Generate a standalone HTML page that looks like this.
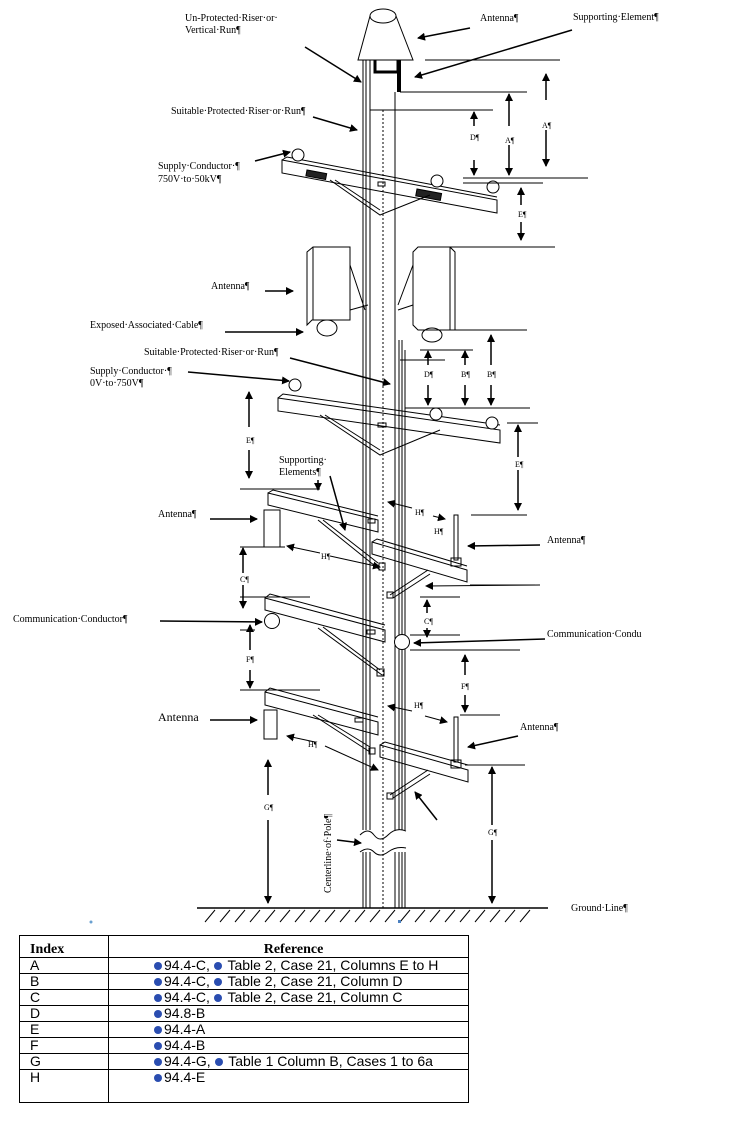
<!DOCTYPE html>
<html><head><meta charset="utf-8"><style>
html,body{margin:0;padding:0;background:#fff;width:752px;height:1134px;overflow:hidden}
svg{position:absolute;left:0;top:0}
svg text{font-family:"Liberation Serif",serif;font-size:10px;fill:#000}
table{position:absolute;left:19px;top:935px;width:450px;border-collapse:collapse;font-family:"Liberation Sans",sans-serif;font-size:14px;line-height:15px}
td,th{border:1.5px solid #000;padding:0 0 0 10px;height:15px;text-align:left}
th{font-family:"Liberation Serif",serif;font-size:14px;height:21px;vertical-align:bottom}
.b{display:inline-block;width:8px;height:8px;border-radius:50%;background:#2a4db0;margin-right:2px;vertical-align:0}
td.r{padding-left:45px}
</style></head><body>
<svg width="752" height="1134" viewBox="0 0 752 1134">
<defs><marker id="a" markerWidth="8" markerHeight="8" refX="7" refY="4" orient="auto" markerUnits="userSpaceOnUse"><path d="M0,0L8,4L0,8z" fill="#000"/></marker></defs>
<g stroke="#000" fill="none" stroke-width="1">
<line x1="370" y1="60" x2="370" y2="830"/><line x1="395" y1="92" x2="395" y2="830"/>
<line x1="370" y1="852" x2="370" y2="908"/><line x1="395" y1="852" x2="395" y2="908"/>
<line x1="363" y1="60" x2="363" y2="830"/><line x1="366" y1="60" x2="366" y2="830"/>
<line x1="363" y1="852" x2="363" y2="908"/><line x1="366" y1="852" x2="366" y2="908"/>
<line x1="399" y1="340" x2="399" y2="830"/><line x1="402" y1="340" x2="402" y2="830"/><line x1="405" y1="350" x2="405" y2="830"/>
<line x1="399" y1="852" x2="399" y2="908"/><line x1="402" y1="852" x2="402" y2="908"/><line x1="405" y1="852" x2="405" y2="908"/>
<line x1="383" y1="110" x2="383" y2="908" stroke-dasharray="2,2"/>
<path d="M360,835q8,-8 14,0t14,0t18,-4M360,852q8,-6 14,0t14,0t18,-4"/>
<ellipse cx="383" cy="16" rx="13" ry="7"/>
<path d="M370,16L358,60H413L396,16"/>
<path d="M375,60V72H398V60" stroke-width="3"/><line x1="399" y1="60" x2="399" y2="92" stroke-width="4"/>
<path d="M282,160L497,200L497,213L282,173Z M282,160l5,-3l210,40" />
<rect x="307" y="170" width="20" height="6" fill="#222" transform="rotate(10.5 307 170)"/>
<rect x="417" y="189" width="25" height="7" fill="#222" transform="rotate(10.5 417 189)"/>
<path d="M330,180L380,215L430,195M335,180L380,210"/>
<rect x="378" y="182" width="7" height="4"/>
<circle cx="298" cy="155" r="6" fill="#fff"/><circle cx="437" cy="181" r="6" fill="#fff"/><circle cx="493" cy="187" r="6" fill="#fff"/>
<path d="M307,252L313,247H350V320H312L307,325Z M313,247V320"/>
<path d="M350,265L365,310M350,310L368,305"/>
<ellipse cx="327" cy="328" rx="10" ry="8"/>
<path d="M413,252L418,247H450L455,252V330H418L413,325Z M450,247V330"/>
<path d="M413,265L398,305M413,305L398,310"/>
<ellipse cx="432" cy="335" rx="10" ry="7"/>
<path d="M278,398L500,430L500,443L278,411Z M278,398l5,-4l217,31"/>
<path d="M320,415L380,455L440,430M325,415L380,450"/>
<rect x="378" y="423" width="8" height="4"/>
<circle cx="295" cy="385" r="6" fill="#fff"/><circle cx="436" cy="414" r="6" fill="#fff"/><circle cx="492" cy="423" r="6" fill="#fff"/>
<path d="M268,493L378,520L378,532L268,505Z M268,493l5,-3l105,26"/>
<path d="M318,520L380,570M323,520L378,563"/><rect x="379" y="563" width="6" height="7"/>
<rect x="264" y="510" width="16" height="37"/>
<rect x="368" y="519" width="7" height="4"/>
<path d="M372,542L467,570L467,582L372,554Z M372,542l5,-3l90,27"/>
<path d="M428,570L390,595M430,574L393,598"/><rect x="387" y="592" width="6" height="6"/>
<rect x="454" y="515" width="4" height="45"/><rect x="451" y="558" width="10" height="8"/>
<path d="M265,598L385,630L385,642L265,610Z M265,598l5,-4l115,31"/>
<path d="M318,628L382,675M323,627L380,670"/><rect x="377" y="669" width="7" height="7"/>
<circle cx="272" cy="621" r="7.5" fill="#fff"/><circle cx="402" cy="642" r="7.5" fill="#fff"/>
<rect x="367" y="630" width="8" height="4"/>
<path d="M265,692L378,722L378,735L265,705Z M265,692l5,-4l108,29"/>
<path d="M313,715L370,752M318,715L370,747"/><rect x="369" y="748" width="6" height="6"/>
<rect x="264" y="710" width="13" height="29"/>
<rect x="355" y="718" width="8" height="4"/>
<path d="M380,745L468,770L468,782L380,757Z M380,745l5,-3l83,23"/>
<path d="M428,770L390,795M430,774L393,798"/><rect x="387" y="793" width="6" height="6"/>
<rect x="454" y="717" width="4" height="45"/><rect x="451" y="760" width="10" height="8"/>
<line x1="197" y1="908" x2="548" y2="908" stroke-width="1.5"/>
<path d="M205,922l10,-12M220,922l10,-12M235,922l10,-12M250,922l10,-12M265,922l10,-12M280,922l10,-12M295,922l10,-12M310,922l10,-12M325,922l10,-12M340,922l10,-12M355,922l10,-12M370,922l10,-12M385,922l10,-12M400,922l10,-12M415,922l10,-12M430,922l10,-12M445,922l10,-12M460,922l10,-12M475,922l10,-12M490,922l10,-12M505,922l10,-12M520,922l10,-12"/>
<path d="M425,60H560M400,92H527M370,110H493M463,178H588M463,183H543M448,247H555M455,330H527M420,350H473M400,360H445M405,408H530M507,423H538M240,489H320M240,547H285M471,515H527M470,585H535M240,597H310M420,597H460M240,630H255M410,635H460M410,650H520M240,690H320M460,715H500M465,765H525"/>
</g>
<g stroke="#000" stroke-width="1.5" fill="none">
<line x1="470" y1="28" x2="418" y2="38" marker-end="url(#a)"/>
<line x1="572" y1="30" x2="415" y2="77" marker-end="url(#a)"/>
<line x1="305" y1="47" x2="361" y2="82" marker-end="url(#a)"/>
<line x1="313" y1="117" x2="357" y2="130" marker-end="url(#a)"/>
<line x1="255" y1="161" x2="290" y2="152" marker-end="url(#a)"/>
<line x1="265" y1="291" x2="293" y2="291" marker-end="url(#a)"/>
<line x1="225" y1="332" x2="303" y2="332" marker-end="url(#a)"/>
<line x1="290" y1="358" x2="390" y2="384" marker-end="url(#a)"/>
<line x1="188" y1="372" x2="289" y2="381" marker-end="url(#a)"/>
<line x1="330" y1="476" x2="345" y2="530" marker-end="url(#a)"/>
<line x1="318" y1="480" x2="318" y2="490" marker-end="url(#a)"/>
<line x1="210" y1="519" x2="257" y2="519" marker-end="url(#a)"/>
<line x1="540" y1="545" x2="468" y2="546" marker-end="url(#a)"/>
<line x1="540" y1="585" x2="426" y2="586" marker-end="url(#a)" stroke-width="1"/>
<line x1="160" y1="621" x2="262" y2="622" marker-end="url(#a)"/>
<line x1="545" y1="639" x2="414" y2="643" marker-end="url(#a)"/>
<line x1="210" y1="720" x2="257" y2="720" marker-end="url(#a)"/>
<line x1="518" y1="736" x2="468" y2="747" marker-end="url(#a)"/>
<line x1="437" y1="820" x2="415" y2="792" marker-end="url(#a)"/>
<line x1="337" y1="840" x2="361" y2="843" marker-end="url(#a)"/>
<line x1="320" y1="553" x2="287" y2="546" marker-end="url(#a)" stroke-width="1"/>
<line x1="330" y1="556" x2="380" y2="567" marker-end="url(#a)" stroke-width="1"/>
<line x1="412" y1="508" x2="388" y2="502" marker-end="url(#a)" stroke-width="1"/>
<line x1="433" y1="516" x2="445" y2="519" marker-end="url(#a)" stroke-width="1"/>
<line x1="315" y1="742" x2="287" y2="736" marker-end="url(#a)" stroke-width="1"/>
<line x1="325" y1="746" x2="378" y2="770" marker-end="url(#a)" stroke-width="1"/>
<line x1="412" y1="711" x2="388" y2="706" marker-end="url(#a)" stroke-width="1"/>
<line x1="425" y1="716" x2="447" y2="722" marker-end="url(#a)" stroke-width="1"/>
<!-- dimension arrows -->
<line x1="474" y1="126" x2="474" y2="112" marker-end="url(#a)"/><line x1="474" y1="160" x2="474" y2="175" marker-end="url(#a)"/>
<line x1="509" y1="126" x2="509" y2="94" marker-end="url(#a)"/><line x1="509" y1="145" x2="509" y2="175" marker-end="url(#a)"/>
<line x1="546" y1="100" x2="546" y2="74" marker-end="url(#a)"/><line x1="546" y1="130" x2="546" y2="166" marker-end="url(#a)"/>
<line x1="521" y1="205" x2="521" y2="188" marker-end="url(#a)"/><line x1="521" y1="222" x2="521" y2="240" marker-end="url(#a)"/>
<line x1="428" y1="365" x2="428" y2="351" marker-end="url(#a)"/><line x1="428" y1="385" x2="428" y2="405" marker-end="url(#a)"/>
<line x1="465" y1="365" x2="465" y2="351" marker-end="url(#a)"/><line x1="465" y1="385" x2="465" y2="405" marker-end="url(#a)"/>
<line x1="491" y1="365" x2="491" y2="335" marker-end="url(#a)"/><line x1="491" y1="385" x2="491" y2="405" marker-end="url(#a)"/>
<line x1="249" y1="427" x2="249" y2="392" marker-end="url(#a)"/><line x1="249" y1="450" x2="249" y2="478" marker-end="url(#a)"/>
<line x1="518" y1="457" x2="518" y2="425" marker-end="url(#a)"/><line x1="518" y1="470" x2="518" y2="510" marker-end="url(#a)"/>
<line x1="243" y1="573" x2="243" y2="548" marker-end="url(#a)"/><line x1="243" y1="585" x2="243" y2="608" marker-end="url(#a)"/>
<line x1="250" y1="650" x2="250" y2="625" marker-end="url(#a)"/><line x1="250" y1="670" x2="250" y2="688" marker-end="url(#a)"/>
<line x1="465" y1="675" x2="465" y2="655" marker-end="url(#a)"/><line x1="465" y1="695" x2="465" y2="712" marker-end="url(#a)"/>
<line x1="268" y1="795" x2="268" y2="760" marker-end="url(#a)"/><line x1="268" y1="820" x2="268" y2="903" marker-end="url(#a)"/>
<line x1="492" y1="825" x2="492" y2="767" marker-end="url(#a)"/><line x1="492" y1="840" x2="492" y2="903" marker-end="url(#a)"/>
<line x1="427" y1="613" x2="427" y2="600" marker-end="url(#a)"/><line x1="427" y1="628" x2="427" y2="637" marker-end="url(#a)"/>
</g>
<text x="185" y="21">Un-Protected·Riser·or·</text>
<text x="185" y="33">Vertical·Run¶</text>
<text x="480" y="21">Antenna¶</text>
<text x="573" y="20">Supporting·Element¶</text>
<text x="171" y="114">Suitable·Protected·Riser·or·Run¶</text>
<text x="158" y="169">Supply·Conductor·¶</text>
<text x="158" y="182">750V·to·50kV¶</text>
<text x="211" y="289">Antenna¶</text>
<text x="90" y="328">Exposed·Associated·Cable¶</text>
<text x="144" y="355">Suitable·Protected·Riser·or·Run¶</text>
<text x="90" y="374">Supply·Conductor·¶</text>
<text x="90" y="386">0V·to·750V¶</text>
<text x="279" y="463">Supporting·</text>
<text x="279" y="475">Elements¶</text>
<text x="158" y="517">Antenna¶</text>
<text x="547" y="543">Antenna¶</text>
<text x="13" y="622">Communication·Conductor¶</text>
<text x="547" y="637">Communication·Condu</text>
<text x="158" y="721" style="font-size:12px">Antenna</text>
<text x="520" y="730">Antenna¶</text>
<text x="571" y="911">Ground·Line¶</text>
<text x="470" y="140" style="font-size:8px">D¶</text><text x="505" y="143" style="font-size:8px">A¶</text><text x="542" y="128" style="font-size:8px">A¶</text>
<text x="518" y="217" style="font-size:8px">E¶</text>
<text x="424" y="377" style="font-size:8px">D¶</text><text x="461" y="377" style="font-size:8px">B¶</text><text x="487" y="377" style="font-size:8px">B¶</text>
<text x="246" y="443" style="font-size:8px">E¶</text><text x="515" y="467" style="font-size:8px">E¶</text>
<text x="415" y="515" style="font-size:8px">H¶</text><text x="434" y="534" style="font-size:8px">H¶</text>
<text x="321" y="559" style="font-size:8px">H¶</text>
<text x="240" y="582" style="font-size:8px">C¶</text><text x="424" y="624" style="font-size:8px">C¶</text>
<text x="246" y="662" style="font-size:8px">F¶</text><text x="461" y="689" style="font-size:8px">F¶</text>
<text x="414" y="708" style="font-size:8px">H¶</text><text x="308" y="747" style="font-size:8px">H¶</text>
<text x="264" y="810" style="font-size:8px">G¶</text><text x="488" y="835" style="font-size:8px">G¶</text>
<text transform="translate(331,893) rotate(-90)">Centerline·of·Pole¶</text>
<circle cx="91" cy="922" r="1.5" fill="#6aa0d0"/><rect x="398" y="920" width="3" height="3" fill="#4a80c0"/>
</svg>
<table>
<tr><th style="width:78px">Index</th><th style="text-align:center">Reference</th></tr>
<tr><td>A</td><td class="r"><span class="b"></span>94.4-C, <span class="b"></span> Table 2, Case 21, Columns E to H</td></tr>
<tr><td>B</td><td class="r"><span class="b"></span>94.4-C, <span class="b"></span> Table 2, Case 21, Column D</td></tr>
<tr><td>C</td><td class="r"><span class="b"></span>94.4-C, <span class="b"></span> Table 2, Case 21, Column C</td></tr>
<tr><td>D</td><td class="r"><span class="b"></span>94.8-B</td></tr>
<tr><td>E</td><td class="r"><span class="b"></span>94.4-A</td></tr>
<tr><td>F</td><td class="r"><span class="b"></span>94.4-B</td></tr>
<tr><td>G</td><td class="r"><span class="b"></span>94.4-G, <span class="b"></span> Table 1 Column B, Cases 1 to 6a</td></tr>
<tr><td style="vertical-align:top;height:32px">H</td><td class="r" style="vertical-align:top"><span class="b"></span>94.4-E</td></tr>
</table>
</body></html>
